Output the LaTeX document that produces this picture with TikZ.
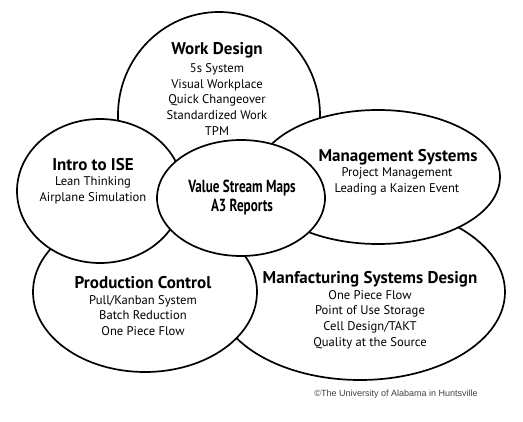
\documentclass[tikz,border=0pt]{standalone}
\usepackage{fontspec}
\setmainfont{PT Sans}
\newfontfamily\narrowfont[FakeStretch=0.75]{PT Sans}
\newfontfamily\notefont{Liberation Sans}
\usetikzlibrary{positioning}

\begin{document}
\begin{tikzpicture}[x=1pt, y=-1pt,
  bubble/.style={draw, line width=1.7pt, fill=white},
  head/.style={font=\fontsize{17}{20}\selectfont\bfseries, inner sep=0pt},
  items/.style={font=\fontsize{12.6}{15.7}\selectfont, align=center, inner sep=0pt}]
\useasboundingbox (0,0) rectangle (523,422);
% the circles, back to front
\draw[bubble] (219,115) ellipse [x radius=101pt, y radius=103pt];
\draw[bubble] (360,292) ellipse [x radius=145pt, y radius=88pt];
\draw[bubble] (145,292) ellipse [x radius=112pt, y radius=80pt];
\draw[bubble] (378,177) ellipse [x radius=122pt, y radius=67pt];
\draw[bubble] (100,191) ellipse [x radius=83pt, y radius=72pt];
\draw[bubble] (241,198) ellipse [x radius=84pt, y radius=58pt];

\node[head] (work) at (217,50) {Work Design};
\node[items] (worklist) at (217,99.5) {5s System\\Visual Workplace\\Quick Changeover\\Standardized Work\\TPM};

\node[head] (intro) at (93,165) {Intro to ISE};
\node[items] (introlist) at (93,190.5) {Lean Thinking\\Airplane Simulation};

\node[font=\fontsize{17.5}{19}\selectfont\narrowfont\bfseries, align=center, inner sep=0pt] (vsm) at (242,197.5) {Value Stream Maps\\A3 Reports};

\node[head] (mgmt) at (398,157) {Management Systems};
\node[items] (mgmtlist) at (397,181.5) {Project Management\\Leading a Kaizen Event};

\node[head] (prod) at (143,283) {Production Control};
\node[items] (prodlist) at (143,315.5) {Pull/Kanban System\\Batch Reduction\\One Piece Flow};

\node[head] (msd) at (370,279) {Manfacturing Systems Design};
\node[items] (msdlist) at (370,319.5) {One Piece Flow\\Point of Use Storage\\Cell Design/TAKT\\Quality at the Source};

\node[font=\fontsize{9}{11}\selectfont\notefont, text=black!75, inner sep=0pt] (note) at (396,394) {\textcopyright The University of Alabama in Huntsville};
\end{tikzpicture}
\end{document}
